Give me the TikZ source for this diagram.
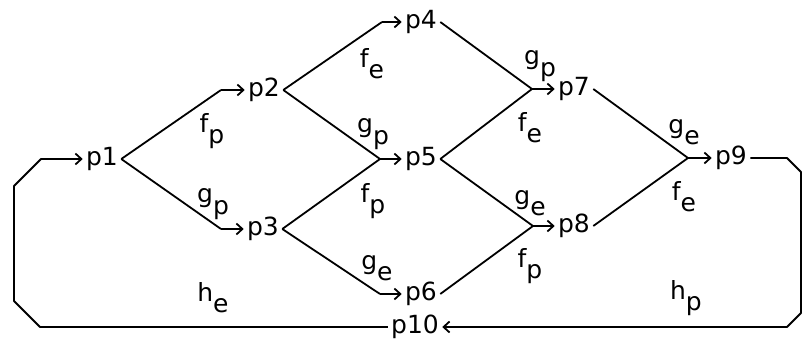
\documentclass[tikz,border=0pt]{standalone}
\usepackage{fontspec}
\setmainfont{DejaVu Sans}
\usetikzlibrary{arrows.meta}
\newcommand{\lab}[2]{#1\raisebox{-0.45em}{#2}}
\tikzset{
  place/.style={inner sep=1.5pt, font=\fontsize{12.5}{14}\selectfont},
  edgelabel/.style={inner sep=0pt, font=\fontsize{12.5}{14}\selectfont},
  wire/.style={line width=0.9pt, line join=round},
  arrow/.style={wire, -{Straight Barb[length=3pt,width=5.5pt,line width=0.9pt]}},
}

\begin{document}
\begin{tikzpicture}[x=0.5pt, y=-0.5pt]
\useasboundingbox (0,0) rectangle (803,341);

% ---- places ----------------------------------------------------------
\node[place] (p1) at (102,159) {p1};
\node[place] (p2) at (264,90) {p2};
\node[place] (p3) at (263,229) {p3};
\node[place] (p4) at (421,22) {p4};
\node[place] (p5) at (421,159) {p5};
\node[place] (p6) at (421,294) {p6};
\node[place] (p7) at (574,89) {p7};
\node[place] (p8) at (574,226) {p8};
\node[place] (p9) at (731,158) {p9};
\node[place] (p10) at (415,327) {p10};

% ---- junctions in front of each place --------------------------------
\coordinate (j2) at (221,90);
\coordinate (j3) at (221,229);
\coordinate (j4) at (382,22);
\coordinate (j5) at (380,159);
\coordinate (j6) at (380,294);
\coordinate (j7) at (532,89);
\coordinate (j8) at (533,226);
\coordinate (j9) at (688,158);

\draw[wire] (p1.east) -- (j2);  \draw[arrow] (j2) -- (p2.west);
\draw[wire] (p1.east) -- (j3);  \draw[arrow] (j3) -- (p3.west);
\draw[wire] (p2.east) -- (j4);  \draw[arrow] (j4) -- (p4.west);
\draw[wire] (p2.east) -- (j5);  \draw[arrow] (j5) -- (p5.west);
\draw[wire] (p3.east) -- (j5);
\draw[wire] (p3.east) -- (j6);  \draw[arrow] (j6) -- (p6.west);
\draw[wire] (p4.east) -- (j7);  \draw[arrow] (j7) -- (p7.west);
\draw[wire] (p5.east) -- (j7);
\draw[wire] (p5.east) -- (j8);  \draw[arrow] (j8) -- (p8.west);
\draw[wire] (p6.east) -- (j8);
\draw[wire] (p7.east) -- (j9);  \draw[arrow] (j9) -- (p9.west);
\draw[wire] (p8.east) -- (j9);

% ---- feedback loop ---------------------------------------------------
\draw[arrow] (p9.east) -- (787,158) -- (801,172) -- (801,313) -- (787,327) -- (p10.east);
\draw[arrow] (p10.west) -- (40,327) -- (14,301) -- (14,186) -- (41,159) -- (p1.west);

% ---- labels ----------------------------------------------------------
\node[edgelabel] at (212,131) {\lab{f}{p}};
\node[edgelabel] at (213,204) {\lab{g}{p}};
\node[edgelabel] at (372,64) {\lab{f}{e}};
\node[edgelabel] at (373,134) {\lab{g}{p}};
\node[edgelabel] at (373,201) {\lab{f}{p}};
\node[edgelabel] at (377,268) {\lab{g}{e}};
\node[edgelabel] at (540,66) {\lab{g}{p}};
\node[edgelabel] at (530,128) {\lab{f}{e}};
\node[edgelabel] at (530,203) {\lab{g}{e}};
\node[edgelabel] at (530,266) {\lab{f}{p}};
\node[edgelabel] at (684,132) {\lab{g}{e}};
\node[edgelabel] at (684,197) {\lab{f}{e}};
\node[edgelabel] at (213,298) {\lab{h}{e}};
\node[edgelabel] at (686,298) {\lab{h}{p}};

\end{tikzpicture}
\end{document}
